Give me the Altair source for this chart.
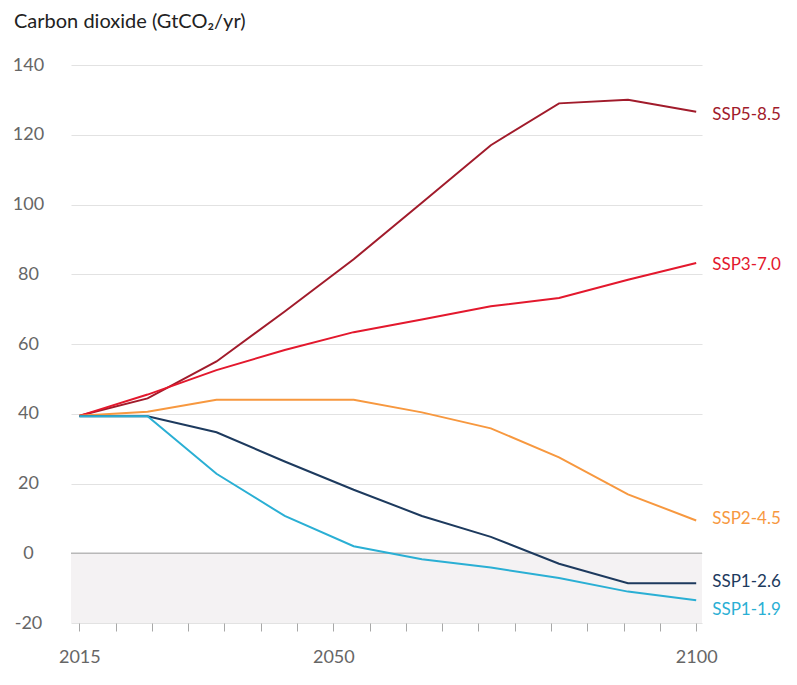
import altair as alt
import pandas as pd

# x positions of the data points (as drawn, evenly spaced between 2015 and 2100)
x_pos = [2015, 2024.4, 2033.9, 2043.3, 2052.8, 2062.2, 2071.7, 2081.1, 2090.6, 2100]

scenarios = ["SSP5-8.5", "SSP3-7.0", "SSP2-4.5", "SSP1-2.6", "SSP1-1.9"]
colors = ["#a11b2b", "#e3182d", "#f7983f", "#1d3a5e", "#2aafd4"]

ssp585 = [39.4, 44.4, 55.0, 69.3, 84.3, 100.5, 117.0, 129.0, 130.0, 126.6]
ssp370 = [39.4, 45.5, 52.5, 58.3, 63.4, 67.0, 70.8, 73.2, 78.4, 83.2]
ssp245 = [39.4, 40.6, 44.0, 44.0, 44.0, 40.4, 35.8, 27.5, 16.9, 9.4]
ssp126 = [39.3, 39.3, 34.7, 26.3, 18.2, 10.7, 4.7, -3.0, -8.6, -8.6]
ssp119 = [39.3, 39.3, 22.8, 10.7, 2.0, -1.7, -4.1, -7.1, -11.0, -13.5]

series = [ssp585, ssp370, ssp245, ssp126, ssp119]

# label placement offsets (in data units) relative to the last value
label_nudge = [-1.0, -0.6, 0.3, 0.4, -2.8]

y_ticks = [-20, 0, 20, 40, 60, 80, 100, 120, 140]
x_ticks = list(range(2015, 2101, 5))
x_labelled = [2015, 2050, 2100]

W, H = 631, 558

rows = []
for name, vals in zip(scenarios, series):
    for x, v in zip(x_pos, vals):
        rows.append({"scenario": name, "x": x, "value": v})
df = pd.DataFrame(rows)

lab = pd.DataFrame({
    "scenario": scenarios,
    "x": [x_pos[-1]] * len(scenarios),
    "value": [s[-1] + n for s, n in zip(series, label_nudge)],
})

xscale = alt.Scale(domain=[2013.85, 2100.8], nice=False, zero=False)
yscale = alt.Scale(domain=[-20, 140], nice=False, zero=False)
cscale = alt.Scale(domain=scenarios, range=colors)

label_expr = "indexof([" + ",".join(str(v) for v in x_labelled) + "], datum.value) >= 0 ? datum.value + '' : ''"

xaxis = alt.Axis(values=x_ticks, tickCount=len(x_ticks) + 5, labelExpr=label_expr,
                 grid=False, domain=False,
                 ticks=True, tickSize=8, tickColor="#a8a8a8", tickWidth=1,
                 labelFontSize=18, labelColor="#666666", labelFont="Lato",
                 labelPadding=17, labelFlush=False, labelOverlap=False, title=None)
yaxis = alt.Axis(values=y_ticks, tickCount=len(y_ticks) + 5, labelExpr="datum.value + ''",
                 grid=True, gridColor="#e2e2e2", gridWidth=1.2,
                 domain=False, ticks=False, labelAlign="center", labelBaseline="middle",
                 labelPadding=43, labelFontSize=18, labelColor="#666666", labelFont="Lato",
                 title=None)

neg = pd.DataFrame({"y1": [0], "y2": [-20]})
shade = alt.Chart(neg).mark_rect(color="#f4f2f3").encode(
    x=alt.value(0), x2=alt.value(W),
    y=alt.Y("y1:Q", scale=yscale, axis=yaxis), y2="y2:Q")

zero = alt.Chart(pd.DataFrame({"y": [0]})).mark_rule(color="#b8b8b8", strokeWidth=1.6).encode(
    x=alt.value(0), x2=alt.value(W), y=alt.Y("y:Q", scale=yscale))

lines = alt.Chart(df).mark_line(strokeWidth=2).encode(
    x=alt.X("x:Q", scale=xscale, axis=xaxis),
    y=alt.Y("value:Q", scale=yscale),
    color=alt.Color("scenario:N", scale=cscale, legend=None),
    detail="scenario:N",
)

labels = alt.Chart(lab).mark_text(align="left", baseline="middle", dx=16,
                                  fontSize=17, font="Lato").encode(
    x=alt.X("x:Q", scale=xscale),
    y=alt.Y("value:Q", scale=yscale),
    text="scenario:N",
    color=alt.Color("scenario:N", scale=cscale, legend=None),
)

title = alt.Chart(pd.DataFrame({"t": ["Carbon dioxide (GtCO₂/yr)"]})).mark_text(
    align="left", baseline="alphabetic", fontSize=20, font="Lato", color="#222222").encode(
    x=alt.value(-57), y=alt.value(-37.5), text="t:N")

chart = alt.layer(shade, zero, lines, labels, title).properties(
    width=W, height=H,
    autosize=alt.AutoSizeParams(type="none"),
    padding={"left": 63, "top": 57, "right": 86, "bottom": 60},
).configure_view(stroke=None)

chart.save("out.html", embed_options={"renderer": "svg", "actions": False})
